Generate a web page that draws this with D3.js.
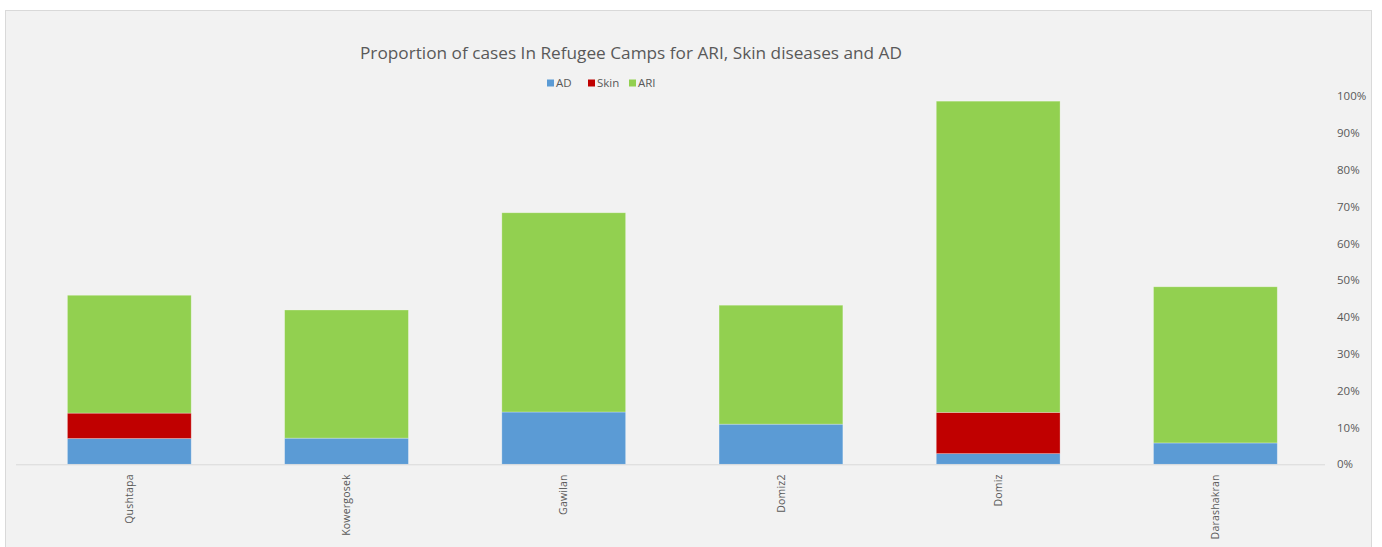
<!DOCTYPE html>
<html>
<head>
<meta charset="utf-8">
<script src="https://cdn.jsdelivr.net/npm/d3@7"></script>
<style>
  html, body { margin: 0; padding: 0; background: #ffffff; }
  svg { display: block; }
</style>
</head>
<body>
<div id="chart"></div>
<script>
// data (percent)
const camps = ["Qushtapa", "Kowergosek", "Gawilan", "Domiz2", "Domiz", "Darashakran"];
const adValues = [7.0, 7.1, 14.2, 10.9, 2.9, 5.8];
const skinValues = [6.9, 0, 0, 0, 11.2, 0];
const ariValues = [32.0, 34.8, 54.1, 32.3, 84.5, 42.4];
const yTicks = [0, 10, 20, 30, 40, 50, 60, 70, 80, 90, 100];
const seriesNames = ["AD", "Skin", "ARI"];
const seriesColors = ["#5b9bd5", "#c00000", "#92d050"];

const width = 1382, height = 547;
const font = "'Open Sans', 'Noto Sans', sans-serif";
const textColor = "#595959";

const svg = d3.select("#chart").append("svg")
  .attr("width", width)
  .attr("height", height);

// chart area
svg.append("rect")
  .attr("x", 5.5).attr("y", 10.5)
  .attr("width", 1366).attr("height", 545)
  .attr("fill", "#f2f2f2")
  .attr("stroke", "#d9d9d9");

const rows = camps.map((c, i) => ({ camp: c, AD: adValues[i], Skin: skinValues[i], ARI: ariValues[i] }));
const stacked = d3.stack().keys(seriesNames)(rows);

const x = d3.scaleBand()
  .domain(camps)
  .range([20.7, 1324])
  .paddingInner(0.43)
  .paddingOuter(0.215);

const y = d3.scaleLinear()
  .domain([0, 100])
  .range([464.3, 96]);

// bars
svg.append("g").selectAll("g")
  .data(stacked)
  .join("g")
  .attr("fill", (d, i) => seriesColors[i])
  .selectAll("rect")
  .data(d => d.filter(s => s[1] - s[0] > 0))
  .join("rect")
  .attr("x", d => x(d.data.camp))
  .attr("y", d => y(d[1]))
  .attr("width", x.bandwidth())
  .attr("height", d => y(d[0]) - y(d[1]))
  .attr("stroke", "#ffffff")
  .attr("stroke-opacity", 0.35)
  .attr("stroke-width", 0.8);

// base line
svg.append("line")
  .attr("x1", 16).attr("x2", 1325)
  .attr("y1", y(0) + 0.5).attr("y2", y(0) + 0.5)
  .attr("stroke", "#d9d9d9")
  .attr("stroke-width", 1);

// right axis labels
const yAxis = d3.axisRight(y)
  .tickValues(yTicks)
  .tickSize(0)
  .tickPadding(0)
  .tickFormat(d => d + "%");

svg.append("g")
  .attr("transform", "translate(1337,0)")
  .call(yAxis)
  .call(g => g.select(".domain").remove())
  .call(g => g.selectAll("text")
    .attr("fill", textColor)
    .attr("font-family", font)
    .attr("font-size", "11.5px"));

// category labels, rotated
const xAxis = d3.axisBottom(x).tickSize(0).tickPadding(0);
svg.append("g")
  .attr("transform", `translate(0,${y(0)})`)
  .call(xAxis)
  .call(g => g.select(".domain").remove())
  .call(g => g.selectAll("text")
    .attr("fill", textColor)
    .attr("font-family", font)
    .attr("font-size", "10.5px")
    .attr("letter-spacing", "0.2px")
    .attr("text-anchor", "end")
    .attr("dy", "0.35em")
    .attr("transform", "translate(0,10) rotate(-90)"));

// title
const title = svg.append("text")
  .attr("x", 631).attr("y", 59)
  .attr("text-anchor", "middle")
  .attr("fill", textColor)
  .attr("font-family", font)
  .attr("font-size", "17px")
  .text("Proportion of cases In Refugee Camps for ARI, Skin diseases and AD");
title.attr("textLength", 542).attr("lengthAdjust", "spacingAndGlyphs");

// legend
const legendX = [547, 588, 629];
const legend = svg.append("g").selectAll("g")
  .data(seriesNames)
  .join("g")
  .attr("transform", (d, i) => `translate(${legendX[i]},83)`);
legend.append("rect")
  .attr("x", 0).attr("y", -3.5)
  .attr("width", 7).attr("height", 7)
  .attr("fill", (d, i) => seriesColors[i]);
legend.append("text")
  .attr("x", 9).attr("y", 0)
  .attr("dy", "0.35em")
  .attr("fill", textColor)
  .attr("font-family", font)
  .attr("font-size", "11.5px")
  .text(d => d);
</script>
</body>
</html>
